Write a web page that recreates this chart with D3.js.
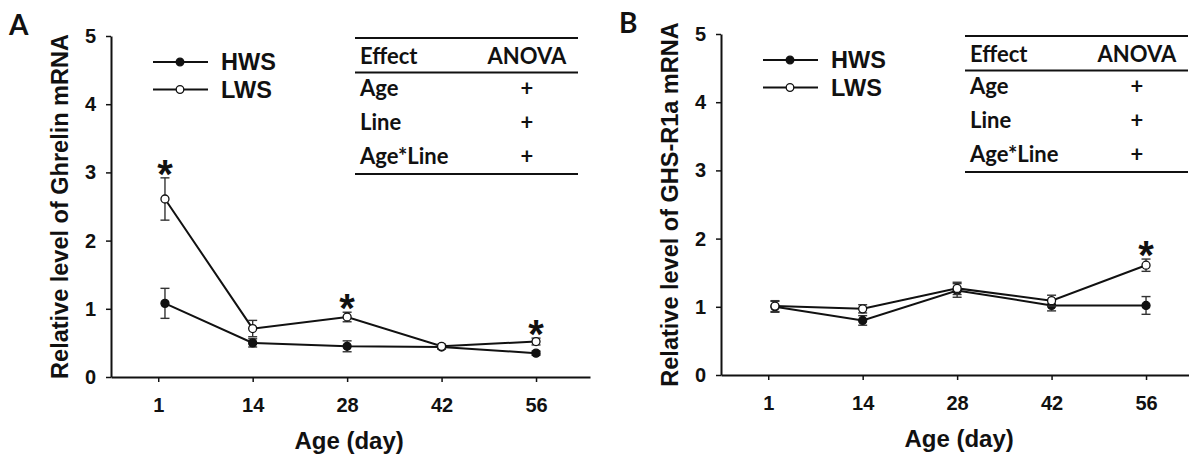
<!DOCTYPE html>
<html lang="en">
<head>
<meta charset="utf-8">
<title>Ghrelin / GHS-R1a</title>
<script src="https://cdn.jsdelivr.net/npm/d3@7"></script>
<style>
  body { margin: 0; background: #fff; }
  svg { display: block; }
  .tick text { font-family: "Liberation Sans", Arial, sans-serif; font-weight: bold; font-size: 20px; fill: #111; }
</style>
</head>
<body>
<div id="chart"></div>
<script>
// ages sampled (x values) and tick labels
const ages = [1, 14, 28, 42, 56];
const tickPos = [0, 14, 28, 42, 56];
const tickLabels = ['1', '14', '28', '42', '56'];
const yTicks = [0, 1, 2, 3, 4, 5];

// panel A: ghrelin
const ghrelinHWS = [1.08, 0.50, 0.45, 0.44, 0.35];
const ghrelinHWSerr = [0.22, 0.06, 0.08, 0.03, 0.03];
const ghrelinLWS = [2.61, 0.71, 0.88, 0.45, 0.52];
const ghrelinLWSerr = [0.31, 0.12, 0.07, 0.03, 0.05];
const ghrelinSig = [1, 28, 56];

// panel B: GHS-R1a
const ghsrHWS = [1.00, 0.80, 1.24, 1.02, 1.02];
const ghsrHWSerr = [0.08, 0.07, 0.10, 0.08, 0.13];
const ghsrLWS = [1.01, 0.97, 1.27, 1.09, 1.61];
const ghsrLWSerr = [0.08, 0.06, 0.09, 0.08, 0.09];
const ghsrSig = [56];

// ANOVA table
const effects = ['Age', 'Line', 'Age*Line'];
const anova = ['+', '+', '+'];

const W = 1189, H = 456;
const svg = d3.select('#chart').append('svg')
  .attr('width', W).attr('height', H);
svg.append('rect').attr('width', W).attr('height', H).attr('fill', '#fff');

const AX = "'Liberation Sans', Arial, sans-serif";
const TB = "Lato, 'Open Sans', sans-serif";

const x = d3.scaleLinear().domain([-7, 64]).range([111, 590]);
const y = d3.scaleLinear().domain([0, 5]).range([377, 36]);

function drawPanel(dx, dy, letter, ytitle, hws, hwsErr, lws, lwsErr, sig) {
  const g = svg.append('g').attr('transform', 'translate(' + dx + ',' + dy + ')');

  g.append('text').attr('x', 9).attr('y', 35).text(letter)
    .attr('font-family', TB).attr('font-weight', 'bold').attr('font-size', '28px').attr('fill', '#111');

  // axes
  const xa = g.append('g').attr('transform', 'translate(0,' + y(0) + ')')
    .call(d3.axisBottom(x).tickValues(tickPos).tickFormat((d, i) => tickLabels[i])
      .tickSizeOuter(0).tickSizeInner(5).tickPadding(16));
  const ya = g.append('g').attr('transform', 'translate(' + x(-7) + ',0)')
    .call(d3.axisLeft(y).tickValues(yTicks).tickFormat(d3.format('d'))
      .tickSizeOuter(0).tickSizeInner(5).tickPadding(10));
  [xa, ya].forEach(a => {
    a.select('.domain').attr('stroke', '#111').attr('stroke-width', 2);
    a.selectAll('.tick line').attr('stroke', '#111').attr('stroke-width', 1.5);
  });

  g.append('text').attr('transform', 'translate(68,' + ((y(0) + y(5)) / 2) + ') rotate(-90)')
    .attr('text-anchor', 'middle').text(ytitle)
    .attr('font-family', AX).attr('font-weight', 'bold').attr('font-size', '23.5px').attr('fill', '#111');
  g.append('text').attr('x', (x(0) + x(56)) / 2 + 2).attr('y', 449).attr('text-anchor', 'middle')
    .text('Age (day)')
    .attr('font-family', AX).attr('font-weight', 'bold').attr('font-size', '24px').attr('fill', '#111');

  const line = d3.line().x((d, i) => x(ages[i])).y(d => y(d));
  const series = [
    { v: hws, e: hwsErr, fill: '#111' },
    { v: lws, e: lwsErr, fill: '#fff' }
  ];
  series.forEach(s => {
    g.append('path').datum(s.v).attr('d', line)
      .attr('fill', 'none').attr('stroke', '#111').attr('stroke-width', 2);
    const eb = g.append('g');
    s.v.forEach((v, i) => {
      const cx = x(ages[i]), y1 = y(v + s.e[i]), y2 = y(v - s.e[i]);
      eb.append('line').attr('x1', cx).attr('x2', cx).attr('y1', y1).attr('y2', y2);
      eb.append('line').attr('x1', cx - 4.5).attr('x2', cx + 4.5).attr('y1', y1).attr('y2', y1);
      eb.append('line').attr('x1', cx - 4.5).attr('x2', cx + 4.5).attr('y1', y2).attr('y2', y2);
    });
    eb.selectAll('line').attr('stroke', '#333').attr('stroke-width', 1.4);
    g.append('g').selectAll('circle').data(s.v).join('circle')
      .attr('cx', (d, i) => x(ages[i])).attr('cy', d => y(d)).attr('r', 4)
      .attr('fill', s.fill).attr('stroke', '#111').attr('stroke-width', 1.3);
  });

  // significance asterisks above LWS error bars
  sig.forEach(a => {
    const i = ages.indexOf(a);
    g.append('text').attr('x', x(a)).attr('y', y(lws[i] + lwsErr[i]) - 12 + 22)
      .attr('text-anchor', 'middle').text('*')
      .attr('font-family', AX).attr('font-weight', 'bold').attr('font-size', '40px').attr('fill', '#111');
  });

  // legend
  const leg = [['HWS', '#111', 62], ['LWS', '#fff', 89.5]];
  leg.forEach(l => {
    g.append('line').attr('x1', 153).attr('x2', 208).attr('y1', l[2]).attr('y2', l[2])
      .attr('stroke', '#111').attr('stroke-width', 2);
    g.append('circle').attr('cx', 180).attr('cy', l[2]).attr('r', 3.8)
      .attr('fill', l[1]).attr('stroke', '#111').attr('stroke-width', 1.3);
    g.append('text').attr('x', 221).attr('y', l[2] + 8).text(l[0])
      .attr('font-family', AX).attr('font-weight', 'bold').attr('font-size', '23.5px').attr('fill', '#111');
  });

  // ANOVA table
  const tl = 355, tr = 578, tc = 527;
  [38, 72.5, 174].forEach(yy => {
    g.append('line').attr('x1', tl).attr('x2', tr).attr('y1', yy).attr('y2', yy)
      .attr('stroke', '#111').attr('stroke-width', 2);
  });
  const tt = (tx, ty, s, anchor) => g.append('text').attr('x', tx).attr('y', ty).text(s)
    .attr('text-anchor', anchor)
    .attr('font-family', TB).attr('font-weight', 'bold').attr('font-size', '22px').attr('fill', '#111');
  tt(tl + 5, 64, 'Effect', 'start');
  tt(tc, 64, 'ANOVA', 'middle');
  effects.forEach((e, i) => {
    tt(tl + 5, 96 + i * 34, e, 'start');
    tt(tc, 96 + i * 34, anova[i], 'middle');
  });
}

drawPanel(0, 0, 'A', 'Relative level of Ghrelin mRNA',
  ghrelinHWS, ghrelinHWSerr, ghrelinLWS, ghrelinLWSerr, ghrelinSig);
drawPanel(610, -2, 'B', 'Relative level of GHS-R1a mRNA',
  ghsrHWS, ghsrHWSerr, ghsrLWS, ghsrLWSerr, ghsrSig);
</script>
</body>
</html>
